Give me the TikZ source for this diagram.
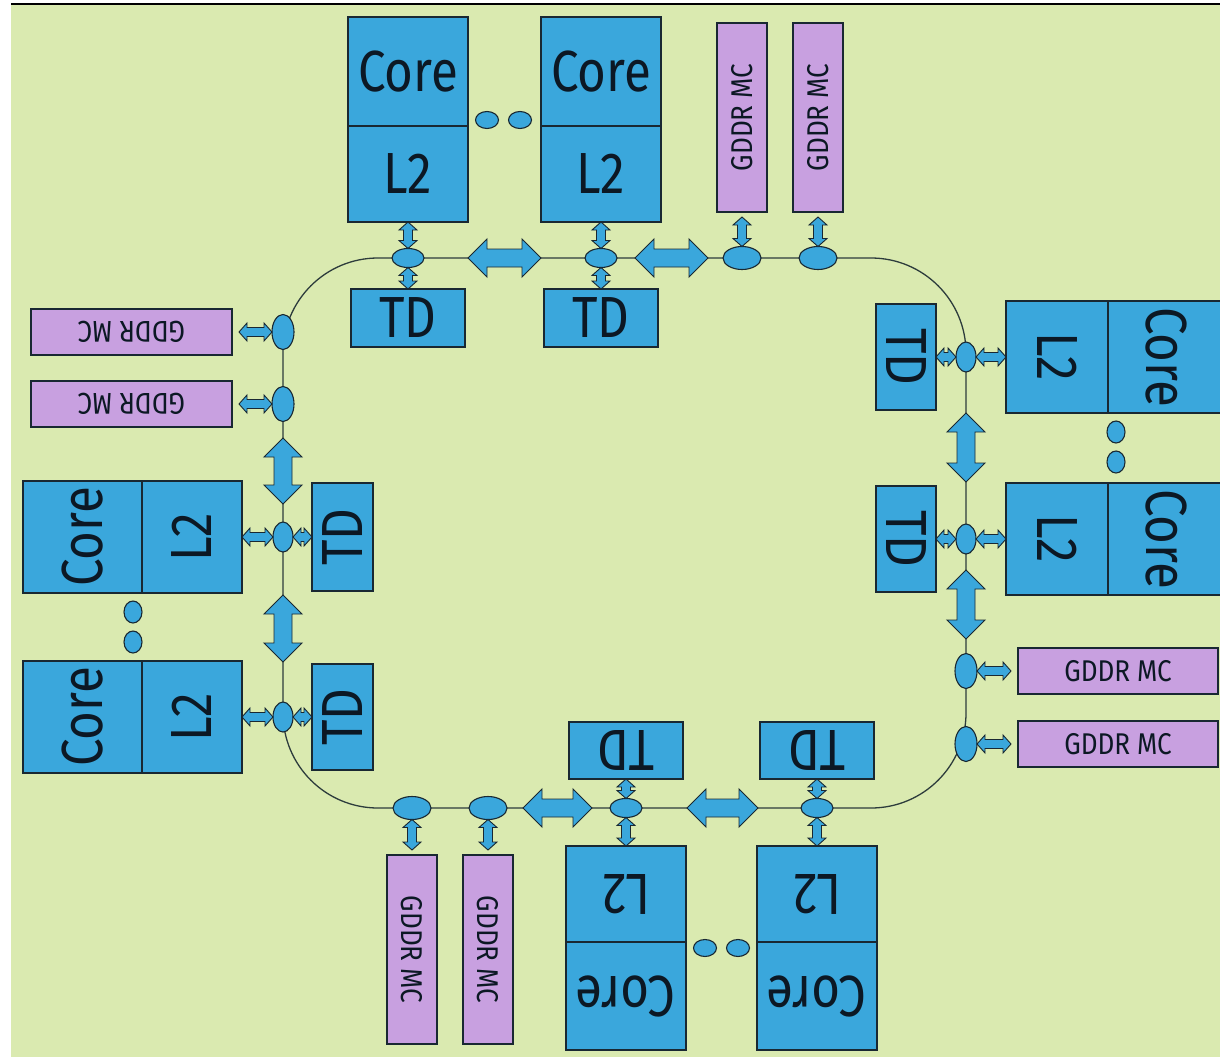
\documentclass[tikz,border=0pt]{standalone}
\usepackage{fontspec}
\setmainfont{Fira Sans}
\usepackage{graphicx}
\usetikzlibrary{shapes.geometric,calc}
\definecolor{bg}{RGB}{218,234,176}
\definecolor{blu}{RGB}{58,167,220}
\definecolor{pur}{RGB}{200,160,224}
\definecolor{edgec}{RGB}{25,40,50}
\definecolor{ringc}{RGB}{45,60,60}
\definecolor{txt}{RGB}{12,24,36}
\newcommand\bigt[1]{\scalebox{0.85}[1]{\fontsize{58}{58}\selectfont #1}}
\newcommand\smt[1]{\scalebox{0.87}[1]{\fontsize{30}{30}\selectfont #1}}
% fat double arrow from #2 to #3: #4 head length, #5 half shaft, #6 half head
\newcommand\fatarr[6]{%
\filldraw[#1] (#2) -- ($(#2)!#4!(#3)!#6!90:(#3)$) -- ($(#2)!#4!(#3)!#5!90:(#3)$)
 -- ($(#3)!#4!(#2)!#5!-90:(#2)$) -- ($(#3)!#4!(#2)!#6!-90:(#2)$) -- (#3)
 -- ($(#3)!#4!(#2)!#6!90:(#2)$) -- ($(#3)!#4!(#2)!#5!90:(#2)$)
 -- ($(#2)!#4!(#3)!#5!-90:(#3)$) -- ($(#2)!#4!(#3)!#6!-90:(#3)$) -- cycle;}
\newcommand\bigarr[2]{\fatarr{arr}{#1}{#2}{19pt}{9pt}{19pt}}
\newcommand\smarr[2]{\fatarr{arr}{#1}{#2}{8pt}{4.5pt}{9pt}}
\tikzset{
  blk/.style={draw=edgec, fill=blu, line width=1.2pt, inner sep=0pt, outer sep=0pt, text=txt, anchor=center},
  mc/.style={draw=edgec, fill=pur, line width=1.2pt, inner sep=0pt, outer sep=0pt, text=txt, anchor=center},
  stop/.style={ellipse, draw=edgec, fill=blu, line width=1.1pt, inner sep=0pt, outer sep=0pt},
  arr/.style={draw=edgec, fill=blu, line width=0.9pt, line join=miter},
  ring/.style={draw=ringc, line width=1.3pt, rounded corners=95pt},
  sz/.style 2 args={minimum width=#1pt, minimum height=#2pt}
}
\begin{document}
\begin{tikzpicture}[x=1pt,y=-1pt]
\useasboundingbox (0,0) rectangle (1220,1057);
\fill[white] (0,0) rectangle (1220,1057);
\fill[bg] (11,5) rectangle (1220,1057);
\draw[black, line width=1.8pt] (11,4) -- (1220,4);
% ring
\coordinate (ringNW) at (283,258);
\coordinate (ringSE) at (966,808);
\draw[ring] (ringNW) rectangle (ringSE);

% ---------- TOP ----------
\node[blk, sz={120}{109}] (coreT1) at (408,71.5) {\bigt{Core}};
\node[blk, sz={120}{96}] (l2T1) at (408,174) {\bigt{L2}};
\node[blk, sz={120}{109}] (coreT2) at (601,71.5) {\bigt{Core}};
\node[blk, sz={120}{96}] (l2T2) at (601,174) {\bigt{L2}};
\node[blk, sz={114}{58}] (tdT1) at (408,318) {\bigt{TD}};
\node[blk, sz={114}{58}] (tdT2) at (601,318) {\bigt{TD}};
\node[mc, sz={50}{189}] (gddrT1) at (742,117.5) {\rotatebox{90}{\smt{GDDR MC}}};
\node[mc, sz={50}{189}] (gddrT2) at (818,117.5) {\rotatebox{90}{\smt{GDDR MC}}};
\node[stop, sz={32}{19}] (sT1) at (408,258) {};
\node[stop, sz={32}{19}] (sT2) at (601,258) {};
\node[stop, sz={38}{23}] (sTg1) at (742,258) {};
\node[stop, sz={38}{23}] (sTg2) at (818,258) {};
\node[stop, sz={23}{17}] (dT1) at (487,120) {};
\node[stop, sz={23}{17}] (dT2) at (520,120) {};

% ---------- LEFT ----------
\node[mc, sz={201}{46}] (gddrL1) at (131.5,332) {\rotatebox{180}{\smt{GDDR MC}}};
\node[mc, sz={201}{46}] (gddrL2) at (131.5,404) {\rotatebox{180}{\smt{GDDR MC}}};
\node[blk, sz={119}{112}] (coreL1) at (82.5,537) {\rotatebox{90}{\bigt{Core}}};
\node[blk, sz={100}{112}] (l2L1) at (192,537) {\rotatebox{90}{\bigt{L2}}};
\node[blk, sz={119}{112}] (coreL2) at (82.5,717) {\rotatebox{90}{\bigt{Core}}};
\node[blk, sz={100}{112}] (l2L2) at (192,717) {\rotatebox{90}{\bigt{L2}}};
\node[blk, sz={61}{108}] (tdL1) at (342.5,537) {\rotatebox{90}{\bigt{TD}}};
\node[blk, sz={61}{106}] (tdL2) at (342.5,717) {\rotatebox{90}{\bigt{TD}}};
\node[stop, sz={22}{35}] (sLg1) at (283,332) {};
\node[stop, sz={22}{35}] (sLg2) at (283,404) {};
\node[stop, sz={20}{30}] (sL1) at (283,537) {};
\node[stop, sz={20}{30}] (sL2) at (283,717) {};
\node[stop, sz={18}{22}] (dL1) at (133,612) {};
\node[stop, sz={18}{22}] (dL2) at (133,642) {};

% ---------- RIGHT ----------
\node[blk, sz={60}{106}] (tdR1) at (906,357) {\rotatebox{-90}{\bigt{TD}}};
\node[blk, sz={60}{106}] (tdR2) at (906,539) {\rotatebox{-90}{\bigt{TD}}};
\node[blk, sz={102}{112}] (l2R1) at (1057,357) {\rotatebox{-90}{\bigt{L2}}};
\node[blk, sz={116}{112}] (coreR1) at (1166,357) {\rotatebox{-90}{\bigt{Core}}};
\node[blk, sz={102}{112}] (l2R2) at (1057,539) {\rotatebox{-90}{\bigt{L2}}};
\node[blk, sz={116}{112}] (coreR2) at (1166,539) {\rotatebox{-90}{\bigt{Core}}};
\node[mc, sz={200}{46}] (gddrR1) at (1118,671) {\smt{GDDR MC}};
\node[mc, sz={200}{46}] (gddrR2) at (1118,744) {\smt{GDDR MC}};
\node[stop, sz={20}{30}] (sR1) at (966,357) {};
\node[stop, sz={20}{30}] (sR2) at (966,539) {};
\node[stop, sz={22}{35}] (sRg1) at (966,671) {};
\node[stop, sz={22}{35}] (sRg2) at (966,744) {};
\node[stop, sz={18}{22}] (dR1) at (1116,432) {};
\node[stop, sz={18}{22}] (dR2) at (1116,462) {};

% ---------- BOTTOM ----------
\node[mc, sz={50}{189}] (gddrB1) at (412,949.5) {\rotatebox{-90}{\smt{GDDR MC}}};
\node[mc, sz={50}{189}] (gddrB2) at (488,949.5) {\rotatebox{-90}{\smt{GDDR MC}}};
\node[blk, sz={114}{57}] (tdB1) at (626,750.5) {\rotatebox{180}{\bigt{TD}}};
\node[blk, sz={114}{57}] (tdB2) at (817,750.5) {\rotatebox{180}{\bigt{TD}}};
\node[blk, sz={120}{96}] (l2B1) at (626,894) {\rotatebox{180}{\bigt{L2}}};
\node[blk, sz={120}{108}] (coreB1) at (626,996) {\rotatebox{180}{\bigt{Core}}};
\node[blk, sz={120}{96}] (l2B2) at (817,894) {\rotatebox{180}{\bigt{L2}}};
\node[blk, sz={120}{108}] (coreB2) at (817,996) {\rotatebox{180}{\bigt{Core}}};
\node[stop, sz={38}{23}] (sBg1) at (412,808) {};
\node[stop, sz={38}{23}] (sBg2) at (488,808) {};
\node[stop, sz={32}{19}] (sB1) at (626,808) {};
\node[stop, sz={32}{19}] (sB2) at (817,808) {};
\node[stop, sz={23}{17}] (dB1) at (705,948) {};
\node[stop, sz={23}{17}] (dB2) at (738,948) {};

% ---------- connector end points ----------
\coordinate (aT1a) at (468,258); \coordinate (aT1b) at (541,258);
\coordinate (aT2a) at (635,258); \coordinate (aT2b) at (708,258);
\coordinate (aL1a) at (283,438); \coordinate (aL1b) at (283,504);
\coordinate (aL2a) at (283,595); \coordinate (aL2b) at (283,662);
\coordinate (aR1a) at (966,413); \coordinate (aR1b) at (966,482);
\coordinate (aR2a) at (966,570); \coordinate (aR2b) at (966,639);
\coordinate (aB1a) at (523,808); \coordinate (aB1b) at (592,808);
\coordinate (aB2a) at (687,808); \coordinate (aB2b) at (758,808);
\coordinate (gT1) at ($(gddrT1.south)+(0,5)$);
\coordinate (gT2) at ($(gddrT2.south)+(0,5)$);
\coordinate (gL1) at ($(gddrL1.east)+(7,0)$);
\coordinate (gL2) at ($(gddrL2.east)+(7,0)$);
\coordinate (gR1) at ($(gddrR1.west)+(-7,0)$);
\coordinate (gR2) at ($(gddrR2.west)+(-7,0)$);
\coordinate (gB1) at ($(gddrB1.north)+(0,-5)$);
\coordinate (gB2) at ($(gddrB2.north)+(0,-5)$);

% ---------- big ring arrows ----------
\bigarr{aT1a}{aT1b} \bigarr{aT2a}{aT2b}
\bigarr{aL1a}{aL1b} \bigarr{aL2a}{aL2b}
\bigarr{aR1a}{aR1b} \bigarr{aR2a}{aR2b}
\bigarr{aB1a}{aB1b} \bigarr{aB2a}{aB2b}

% ---------- small arrows ----------
\smarr{l2T1.south}{sT1.north} \smarr{sT1.south}{tdT1.north}
\smarr{l2T2.south}{sT2.north} \smarr{sT2.south}{tdT2.north}
\smarr{gT1}{sTg1.north} \smarr{gT2}{sTg2.north}
\smarr{gL1}{sLg1.west} \smarr{gL2}{sLg2.west}
\smarr{l2L1.east}{sL1.west} \smarr{sL1.east}{tdL1.west}
\smarr{l2L2.east}{sL2.west} \smarr{sL2.east}{tdL2.west}
\smarr{tdR1.east}{sR1.west} \smarr{sR1.east}{l2R1.west}
\smarr{tdR2.east}{sR2.west} \smarr{sR2.east}{l2R2.west}
\smarr{sRg1.east}{gR1} \smarr{sRg2.east}{gR2}
\smarr{sBg1.south}{gB1} \smarr{sBg2.south}{gB2}
\smarr{tdB1.south}{sB1.north} \smarr{sB1.south}{l2B1.north}
\smarr{tdB2.south}{sB2.north} \smarr{sB2.south}{l2B2.north}
\end{tikzpicture}
\end{document}
